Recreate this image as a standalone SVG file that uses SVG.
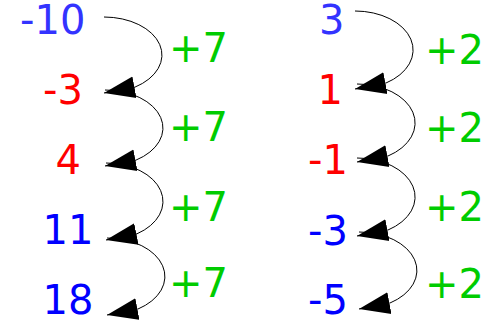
<svg xmlns="http://www.w3.org/2000/svg" width="487" height="320" viewBox="0 0 487 320">
<style>
text{font-family:"DejaVu Sans",sans-serif;font-size:40px}
.b1{fill:#3333ff}.b2{fill:#0000ff}.r{fill:#ff0000}.g{fill:#00cc00}
.arc{fill:none;stroke:#000;stroke-width:1;marker-end:url(#ah)}
</style>
<defs>
<marker id="ah" markerUnits="userSpaceOnUse" markerWidth="32" markerHeight="24" viewBox="0 -12 32 24" refX="31" refY="0" orient="auto">
<path d="M0,-11 L31,0 L0,11 z" fill="#000"/>
</marker>
</defs>
<g id="connectors">
<path class="arc" d="M104,17 A58,38 0 0 1 135,87.1 L104,93"/>
<path class="arc" d="M105,90 A58,38 0 0 1 136,160.1 L105,166"/>
<path class="arc" d="M106,163 A57,38.5 0 0 1 137,233.8 L106,240"/>
<path class="arc" d="M107,238 A58,38.5 0 0 1 138,309 L107,315"/>
<path class="arc" d="M355,11 A58,39 0 0 1 386,83 L355,89"/>
<path class="arc" d="M357,84 A58,39 0 0 1 388,156 L357,162"/>
<path class="arc" d="M357,158 A58,39 0 0 1 388,230 L357,236"/>
<path class="arc" d="M359,232 A58,38.5 0 0 1 390,303 L359,309"/>
</g>
<g id="n-10"><text class="b1" x="20" y="34">-10</text></g>
<g id="n-3a"><text class="r" x="43" y="104">-3</text></g>
<g id="n4"><text class="r" x="55.5" y="174">4</text></g>
<g id="n11"><text class="b2" x="42.6" y="244">11</text></g>
<g id="n18"><text class="b2" x="42.6" y="314">18</text></g>
<g id="n3"><text class="b1" x="319" y="34">3</text></g>
<g id="n1"><text class="r" x="317.6" y="104">1</text></g>
<g id="n-1"><text class="r" x="308" y="174">-1</text></g>
<g id="n-3b"><text class="b2" x="308" y="245">-3</text></g>
<g id="n-5"><text class="b2" x="308" y="314">-5</text></g>
<g id="labels-left">
<text class="g" x="169" y="62">+7</text>
<text class="g" x="169" y="141">+7</text>
<text class="g" x="169" y="221">+7</text>
<text class="g" x="169" y="297">+7</text>
</g>
<g id="labels-right">
<text class="g" x="425" y="64">+2</text>
<text class="g" x="425" y="142">+2</text>
<text class="g" x="425" y="221">+2</text>
<text class="g" x="425" y="298">+2</text>
</g>
</svg>
